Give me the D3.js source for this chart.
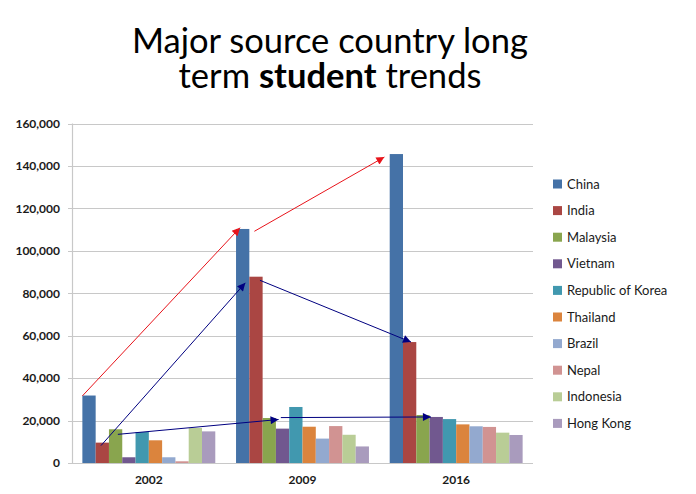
<!DOCTYPE html>
<html><head><meta charset="utf-8">
<script src="https://cdn.jsdelivr.net/npm/d3@7"></script>
<style>
html,body{margin:0;padding:0;background:#fff;}
svg{display:block;font-family:Lato,"Open Sans",sans-serif;}
</style></head>
<body><svg id="chart" width="696" height="494"></svg>
<script>
const years = ["2002", "2009", "2016"];
const countries = ["China","India","Malaysia","Vietnam","Republic of Korea","Thailand","Brazil","Nepal","Indonesia","Hong Kong"];
const colors = ["#4572A7","#AA4643","#89A54E","#71588F","#4198AF","#DB843D","#93A9CF","#D19392","#B9CD96","#A99BBD"];
const values2002 = [31800, 9600, 15900, 2700, 14600, 10700, 2700, 800, 16500, 14900];
const values2009 = [110300, 87800, 21200, 16200, 26400, 17100, 11500, 17400, 13300, 7800];
const values2016 = [145600, 57000, 22600, 21700, 20700, 18200, 17300, 17000, 14300, 13200];
const yTicks = [0, 20000, 40000, 60000, 80000, 100000, 120000, 140000, 160000];
// arrows: [year, country, position within bar (0..1), value]
const arrowColors = ["#e8141b","#e8141b","#000080","#000080","#000080","#000080"];
const arrowFrom = [["2002","China",0.0,31600],["2009","India",0.38,109200],["2002","India",0.4,8200],["2009","India",0.8,86100],["2002","Malaysia",0.67,13500],["2009","Vietnam",0.37,21400]];
const arrowTo   = [["2009","China",0.3,110900],["2016","China",-0.4,144200],["2009","China",0.7,84900],["2016","India",0.6,57000],["2009","Malaysia",1.2,20500],["2016","Vietnam",0.1,21700]];

(function () {
const valuesByYear = [values2002, values2009, values2016];
const data = years.map((yr, i) => ({year: yr, vals: countries.map((c, j) => ({country: c, value: valuesByYear[i][j]}))}));

const svg = d3.select("#chart");
const mLeft = 72, mRight = 533, mTop = 123.5, mBottom = 463;

const x0 = d3.scaleBand().domain(years).range([mLeft, mRight]).paddingInner(0.135).paddingOuter(0.0675);
const x1 = d3.scaleBand().domain(countries).range([0, x0.bandwidth()]);
const y = d3.scaleLinear().domain([0, 160000]).range([mBottom, mTop]);
const color = d3.scaleOrdinal().domain(countries).range(colors);

// title (one text element, two lines)
const title = svg.append("text").attr("fill", "#000").attr("text-anchor", "middle").style("font-size", "34px");
const l1 = title.append("tspan").attr("x", 330).attr("y", 53).text("Major source country long");
const l2a = title.append("tspan").attr("x", 330).attr("y", 88).text("term ");
title.append("tspan").attr("font-weight", "bold").text("student");
title.append("tspan").text(" trends");
const w1 = l1.node().getComputedTextLength();
title.style("font-size", (34 * 396 / w1) + "px");

// gridlines
svg.append("g").selectAll("line").data(yTicks).join("line")
  .attr("x1", mLeft - 4).attr("x2", mRight)
  .attr("y1", d => Math.round(y(d)) + 0.5).attr("y2", d => Math.round(y(d)) + 0.5)
  .attr("stroke", "#c8c8c8").attr("stroke-width", 1.2);

// y axis line
svg.append("line").attr("x1", mLeft + 0.5).attr("x2", mLeft + 0.5).attr("y1", y(160000)).attr("y2", y(0))
  .attr("stroke", "#c8c8c8").attr("stroke-width", 1.2);

// y axis
const yAxis = svg.append("g").attr("transform", `translate(${mLeft - 10},0)`)
  .call(d3.axisLeft(y).tickValues(yTicks).tickSize(0).tickPadding(2).tickFormat(d3.format(",")));
yAxis.select(".domain").remove();
yAxis.selectAll("text").style("font-family", "Lato, sans-serif").style("font-size", "12px")
  .style("font-weight", "bold").attr("fill", "#1a1a1a");

// x axis
const xAxis = svg.append("g").attr("transform", `translate(0,${mBottom})`)
  .call(d3.axisBottom(x0).tickSize(0).tickPadding(12));
xAxis.select(".domain").remove();
xAxis.selectAll("text").style("font-family", "Lato, sans-serif").style("font-size", "12px")
  .style("font-weight", "bold").attr("fill", "#1a1a1a");

// bars
svg.append("g").selectAll("g").data(data).join("g")
  .attr("transform", d => `translate(${x0(d.year)},0)`)
  .selectAll("rect").data(d => d.vals).join("rect")
  .attr("x", d => x1(d.country)).attr("width", x1.bandwidth())
  .attr("y", d => y(d.value)).attr("height", d => y(0) - y(d.value))
  .attr("fill", d => color(d.country));

// arrows
const defs = svg.append("defs");
["#e8141b", "#000080"].forEach((c, i) => {
  defs.append("marker").attr("id", "ah" + i).attr("viewBox", "0 0 10 10")
    .attr("refX", 10).attr("refY", 5).attr("markerWidth", 10).attr("markerHeight", 8)
    .attr("markerUnits", "userSpaceOnUse").attr("orient", "auto")
    .append("path").attr("d", "M0,0L10,5L0,10Z").attr("fill", c);
});
const px = p => x0(p[0]) + x1(p[1]) + p[2] * x1.bandwidth();
const arrows = arrowFrom.map((f, i) => ({f, t: arrowTo[i], c: arrowColors[i]}));
svg.append("g").selectAll("line").data(arrows).join("line")
  .attr("x1", d => px(d.f)).attr("y1", d => y(d.f[3]))
  .attr("x2", d => px(d.t)).attr("y2", d => y(d.t[3]))
  .attr("stroke", d => d.c).attr("stroke-width", 1)
  .attr("marker-end", d => d.c === "#000080" ? "url(#ah1)" : "url(#ah0)");

// legend
const legend = svg.append("g").attr("transform", "translate(553,184)");
const li = legend.selectAll("g").data(countries).join("g")
  .attr("transform", (d, i) => `translate(0,${i * 26.6})`);
li.append("rect").attr("x", 0).attr("y", -4.5).attr("width", 9).attr("height", 9).attr("fill", d => color(d));
li.append("text").attr("x", 14).attr("y", 0).attr("dy", "0.35em")
  .style("font-size", "13px").attr("fill", "#1a1a1a").text(d => d);
})();
</script></body></html>
